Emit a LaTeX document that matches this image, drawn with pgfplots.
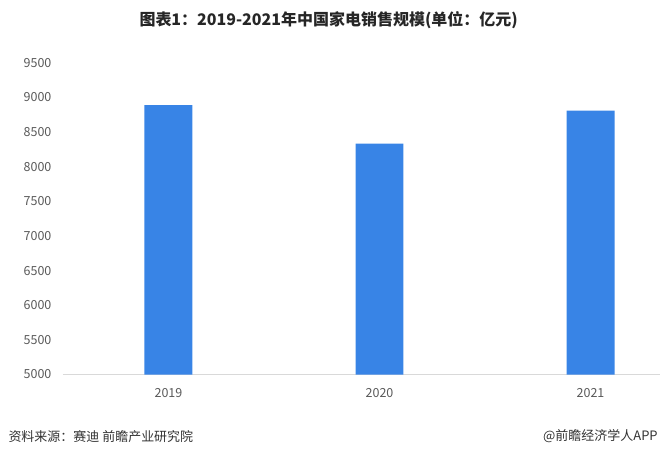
\documentclass[border=0pt]{standalone}
\usepackage{fontspec}
\setmainfont{Noto Sans CJK SC}
\usepackage{pgfplots}
\pgfplotsset{compat=1.18}
\definecolor{barblue}{RGB}{56,132,230}
\definecolor{ticktxt}{RGB}{89,89,89}
\definecolor{axline}{RGB}{217,217,217}
\begin{document}
\begin{tikzpicture}[x=1bp,y=1bp]
\path (0,0) rectangle (661,453);
\begin{axis}[
    at={(63bp,78bp)}, anchor=south west,
    width=598bp, height=312bp, scale only axis,
    ymin=5000, ymax=9500,
    ytick={5000,5500,...,9500},
    xmin=-0.5, xmax=2.33,
    xtick={0,1,2},
    xticklabels={2019,2020,2021},
    axis y line*=left,
    y axis line style={draw=none},
    axis x line*=bottom,
    x axis line style={draw=axline, line width=1bp, -},
    tick style={draw=none},
    ticklabel style={font=\fontsize{12.5bp}{14bp}\selectfont, text=ticktxt},
    yticklabel style={xshift=-8bp},
    xticklabel style={yshift=-6bp},
    /pgf/number format/assume math mode=true,
    /pgf/number format/1000 sep={},
    ybar, bar width=48bp,
    clip=false,
]
\addplot[fill=barblue, draw=none] coordinates {(0,8891) (1,8333) (2,8811)};
\end{axis}
\node[font=\fontsize{16bp}{18bp}\selectfont\bfseries, text=black!85] at (329,433) {图表1：2019-2021年中国家电销售规模(单位：亿元)};
\node[anchor=west, font=\fontsize{13bp}{15bp}\selectfont, text=black!80] at (5,16) {资料来源：赛迪 前瞻产业研究院};
\node[anchor=east, font=\fontsize{13bp}{15bp}\selectfont, text=black!80] at (662,16) {@前瞻经济学人APP};
\end{tikzpicture}
\end{document}
